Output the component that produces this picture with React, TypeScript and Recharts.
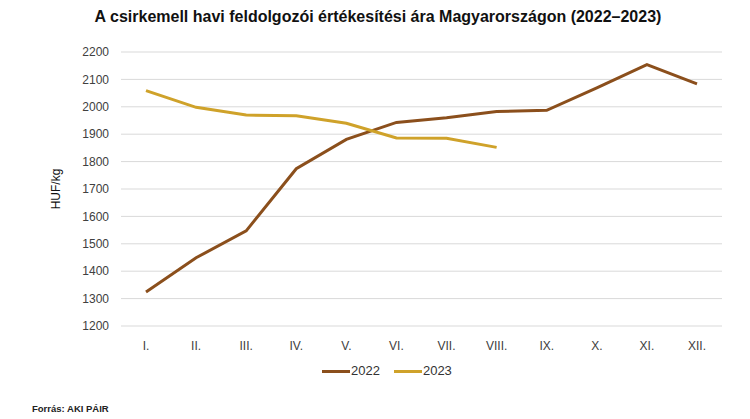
import React from 'react';
import { LineChart, Line, XAxis, YAxis, CartesianGrid } from 'recharts';

const months = ['I.', 'II.', 'III.', 'IV.', 'V.', 'VI.', 'VII.', 'VIII.', 'IX.', 'X.', 'XI.', 'XII.'];
const values2022 = [1324, 1449, 1547, 1774, 1881, 1943, 1960, 1983, 1987, 2069, 2154, 2084];
const values2023: (number | null)[] = [2059, 1998, 1970, 1967, 1940, 1886, 1885, 1852, null, null, null, null];
const yTicks = [1200, 1300, 1400, 1500, 1600, 1700, 1800, 1900, 2000, 2100, 2200];
const seriesNames = ['2022', '2023'];

const data = months.map((m, i) => ({ month: m, y2022: values2022[i], y2023: values2023[i] }));

const C2022 = '#8B4F1C';
const C2023 = '#CFA22A';
const FONT = 'Arial, "Liberation Sans", sans-serif';

export default function App() {
  return (
    <div style={{ position: 'absolute', left: 0, top: 0, width: 750, height: 419, background: '#fff', fontFamily: FONT }}>
      <div style={{ position: 'absolute', left: 0, top: 8, width: 756, textAlign: 'center', fontSize: 16, fontWeight: 'bold', color: '#111' }}>
        A csirkemell havi feldolgozói értékesítési ára Magyarországon (2022–2023)
      </div>
      <LineChart width={750} height={419} data={data} margin={{ top: 52, right: 28, bottom: 63, left: 0 }}>
        <CartesianGrid vertical={false} stroke="#d9d9d9" strokeWidth={1} />
        <XAxis
          dataKey="month"
          height={30}
          padding={{ left: 25, right: 25 }}
          tickLine={false}
          axisLine={false}
          tickSize={0}
          tickMargin={15}
          tick={{ fill: '#404040', fontSize: 12, fontFamily: FONT }}
          interval={0}
        />
        <YAxis
          width={121}
          domain={[1200, 2200]}
          ticks={yTicks}
          tickLine={false}
          axisLine={false}
          tickSize={0}
          tickMargin={12}
          tick={{ fill: '#404040', fontSize: 12, fontFamily: FONT }}
          label={{ value: 'HUF/kg', angle: -90, position: 'insideLeft', offset: 56, style: { fill: '#111', fontSize: 12, fontFamily: FONT, textAnchor: 'middle' } }}
        />
        <Line type="linear" dataKey="y2022" name={seriesNames[0]} stroke={C2022} strokeWidth={3} dot={false} isAnimationActive={false} />
        <Line type="linear" dataKey="y2023" name={seriesNames[1]} stroke={C2023} strokeWidth={3} dot={false} isAnimationActive={false} />
      </LineChart>
      <div style={{ position: 'absolute', left: 322, top: 363, display: 'flex', alignItems: 'center', fontSize: 13, color: '#333', lineHeight: '16px' }}>
        <span style={{ display: 'inline-block', width: 28, height: 3, background: C2022, marginRight: 1 }} />
        <span style={{ marginRight: 14 }}>{seriesNames[0]}</span>
        <span style={{ display: 'inline-block', width: 28, height: 3, background: C2023, marginRight: 1 }} />
        <span>{seriesNames[1]}</span>
      </div>
      <div style={{ position: 'absolute', left: 32, top: 403, fontSize: 9.5, fontWeight: 'bold', color: '#222' }}>Forrás: AKI PÁIR</div>
    </div>
  );
}
